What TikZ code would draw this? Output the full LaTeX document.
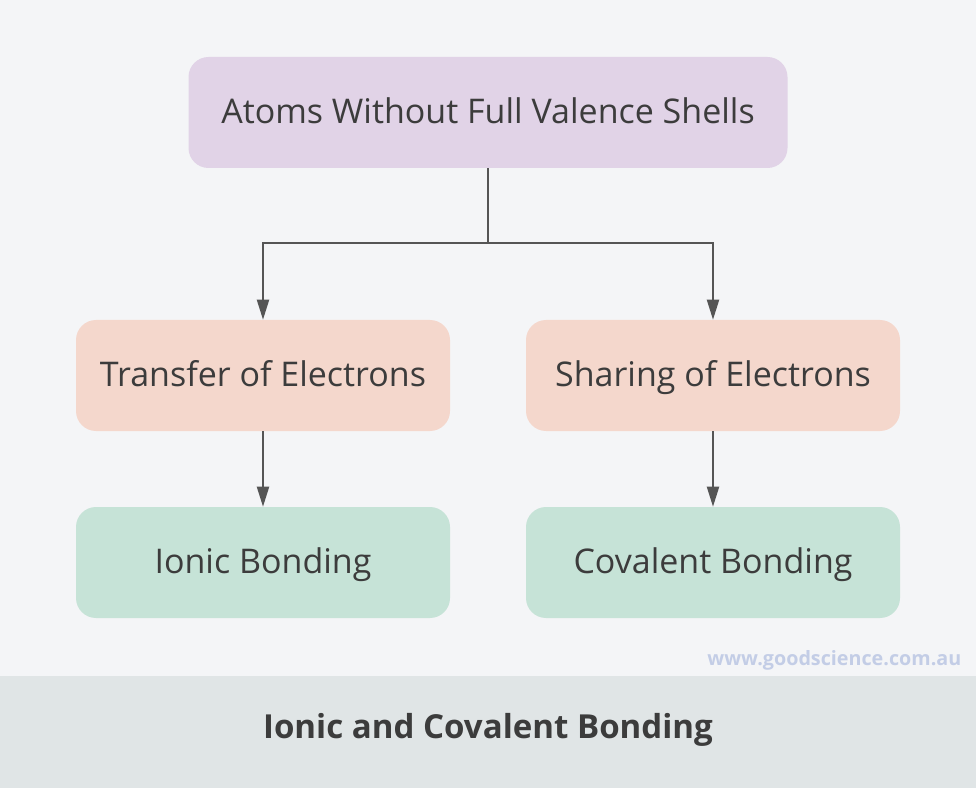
\documentclass[tikz,border=0pt]{standalone}
\usepackage{fontspec}
\setmainfont{Open Sans}
\usetikzlibrary{arrows.meta}
\definecolor{bg}{HTML}{F4F5F7}
\definecolor{band}{HTML}{E0E5E6}
\definecolor{topc}{HTML}{E1D3E7}
\definecolor{midc}{HTML}{F4D7CC}
\definecolor{botc}{HTML}{C6E3D7}
\definecolor{txt}{HTML}{3C3C3C}
\definecolor{lnc}{HTML}{555555}
\definecolor{wm}{HTML}{C3CDE6}
\tikzset{
  box/.style={rounded corners=15pt, inner sep=0pt, text=txt, font=\fontsize{25.5}{30}\selectfont, minimum height=83.25pt, text height=20pt, text depth=3.5pt},
  wide/.style={box, minimum width=449.25pt},
  narrow/.style={box, minimum width=280.5pt},
  conn/.style={draw=lnc, line width=1.5pt, -{Triangle[length=15pt,width=9pt]}},
}
\begin{document}
\begin{tikzpicture}[x=0.75pt,y=-0.75pt]
\fill[bg] (0,0) rectangle (976,788);
\useasboundingbox (0,0) rectangle (976,788);
\fill[band] (0,676) rectangle (976,788);
\node[wide, fill=topc] (atoms) at (488,112.5) {Atoms Without Full Valence Shells};
\node[narrow, fill=midc] (transfer) at (263,375.5) {Transfer of Electrons};
\node[narrow, fill=midc] (sharing) at (713,375.5) {Sharing of Electrons};
\node[narrow, fill=botc] (ionic) at (263,562.5) {Ionic Bonding};
\node[narrow, fill=botc] (covalent) at (713,562.5) {Covalent Bonding};
\coordinate (split) at (488,243);
\draw[draw=lnc, line width=1.5pt] (atoms.south) -- (split);
\draw[conn] (split) -| (transfer.north);
\draw[conn] (split) -| (sharing.north);
\draw[conn] (transfer.south) -- (ionic.north);
\draw[conn] (sharing.south) -- (covalent.north);
\node[anchor=east, text=wm, font=\bfseries\fontsize{14.8}{17}\selectfont] (wmark) at (966,660) {www.goodscience.com.au};
\node[text=txt, font=\bfseries\fontsize{24.8}{29}\selectfont] (title) at (488,730) {Ionic and Covalent Bonding};
\end{tikzpicture}
\end{document}
